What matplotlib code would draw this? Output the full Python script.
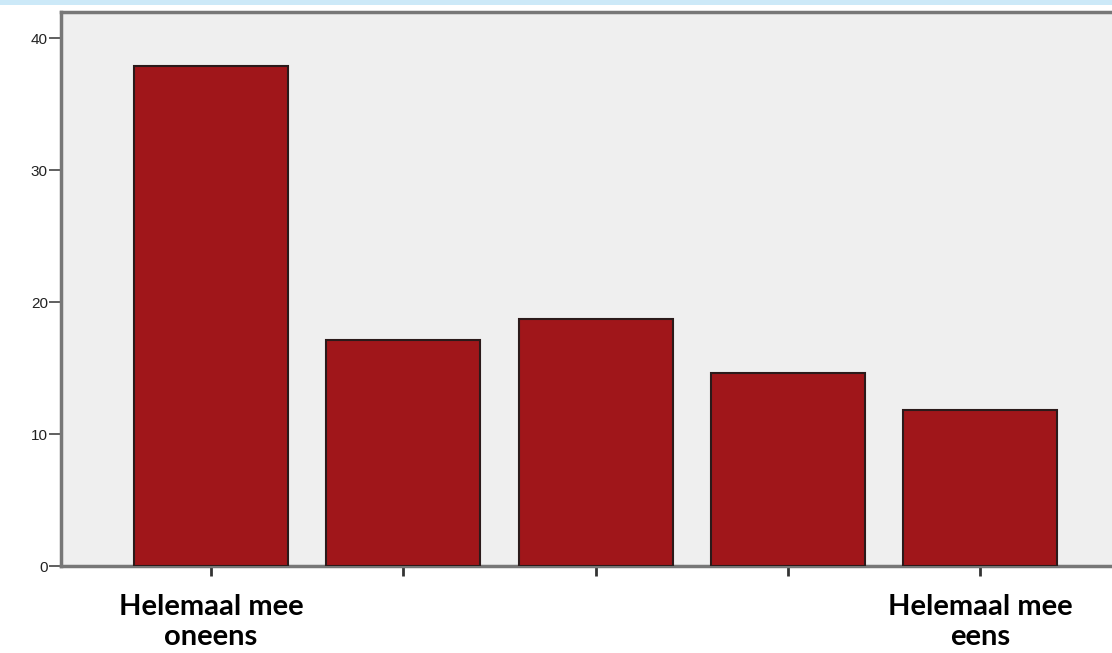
import matplotlib.pyplot as plt
from matplotlib.patches import Rectangle

# Antwoordcategorieen (5-punts schaal) en percentages
categories = ["Helemaal mee\noneens", "", "", "", "Helemaal mee\neens"]
values = [37.9, 17.1, 18.7, 14.6, 11.8]
yticks = [0, 10, 20, 30, 40]

fig = plt.figure(figsize=(11.12, 6.53), dpi=100)
ax = fig.add_axes([0.0549, 0.1332, 0.9451, 0.8484])

# lichtblauwe strook bovenaan (dia-achtergrond)
fig.patches.append(Rectangle((0, 1 - 5 / 653), 1, 5 / 653, transform=fig.transFigure,
                             facecolor="#cce9f8", edgecolor="none"))

x = list(range(len(values)))
ax.bar(x, values, width=0.8, color="#a0161a", edgecolor="#2b1a1a", linewidth=1.5, zorder=3)

ax.set_facecolor("#efefef")
ax.set_xlim(-0.78, 4.685)
ax.set_ylim(0, 41.98)

ax.set_yticks(yticks)
ax.set_yticklabels([str(v) for v in yticks], fontsize=11, color="#222222",
                   family="Liberation Sans")
ax.set_xticks(x)
ax.set_xticklabels(categories, fontsize=21, fontweight="bold", family="Lato",
                   color="black", linespacing=1.2)

ax.tick_params(axis="y", length=8.5, width=1.2, color="#444444", pad=1)
ax.tick_params(axis="x", length=7, width=2, color="#333333", pad=13)

for side in ["left", "bottom", "top"]:
    ax.spines[side].set_color("#777777")
    ax.spines[side].set_linewidth(2.5)
ax.spines["right"].set_visible(False)

fig.savefig("out.png", dpi=100)
